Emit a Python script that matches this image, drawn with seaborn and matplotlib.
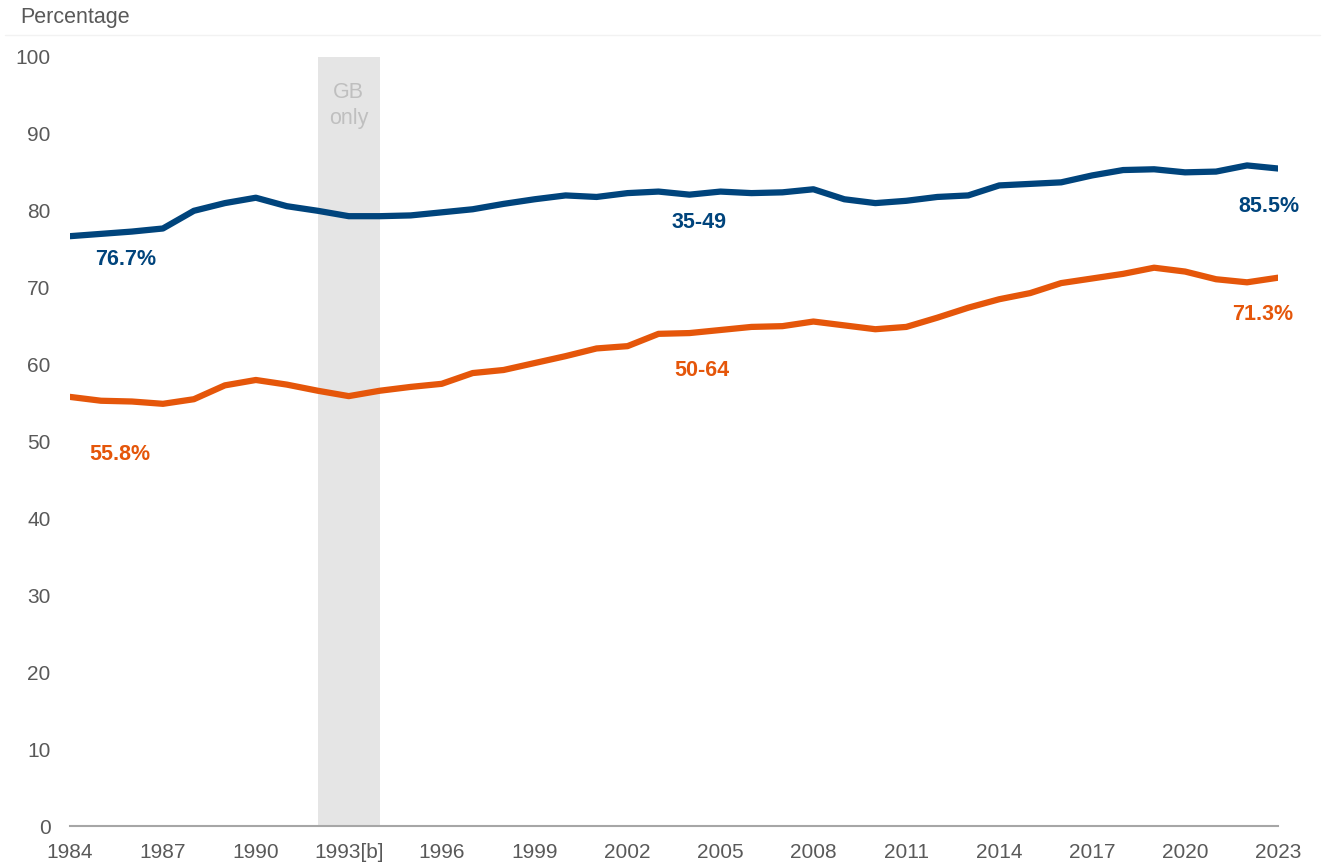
import pandas as pd
import seaborn as sns
import matplotlib.pyplot as plt
from matplotlib.lines import Line2D

years = list(range(1984, 2024))
age_35_49 = [76.7, 77.0, 77.3, 77.7, 80.0, 81.0, 81.7, 80.6, 80.0, 79.3,
             79.3, 79.4, 79.8, 80.2, 80.9, 81.5, 82.0, 81.8, 82.3, 82.5,
             82.1, 82.5, 82.3, 82.4, 82.8, 81.5, 81.0, 81.3, 81.8, 82.0,
             83.3, 83.5, 83.7, 84.6, 85.3, 85.4, 85.0, 85.1, 85.9, 85.5]
age_50_64 = [55.8, 55.3, 55.2, 54.9, 55.5, 57.3, 58.0, 57.4, 56.6, 55.9,
             56.6, 57.1, 57.5, 58.9, 59.3, 60.2, 61.1, 62.1, 62.4, 64.0,
             64.1, 64.5, 64.9, 65.0, 65.6, 65.1, 64.6, 64.9, 66.1, 67.4,
             68.5, 69.3, 70.6, 71.2, 71.8, 72.6, 72.1, 71.1, 70.7, 71.3]
tick_years = list(range(1984, 2024, 3))
tick_labels = [str(y) if y != 1993 else '1993[b]' for y in tick_years]

blue = '#00447C'
orange = '#E5560A'
grey_text = '#595959'

df = pd.DataFrame({
    'Year': years * 2,
    'Percentage': age_35_49 + age_50_64,
    'Age': ['35-49'] * len(years) + ['50-64'] * len(years),
})

sns.set_style('white')
plt.rcParams['font.family'] = ['Liberation Sans', 'DejaVu Sans']

fig = plt.figure(figsize=(13.27, 8.66), dpi=100)
ax = fig.add_axes([70 / 1327, 40 / 866, 1208 / 1327, 769 / 866])

# GB only band
ax.axvspan(1992, 1994, color='#e5e5e5', lw=0, zorder=0)
ax.text(1993, 93.7, 'GB\nonly', ha='center', va='center', color='#bfbfbf',
        fontsize=15.5, linespacing=1.3)

sns.lineplot(data=df, x='Year', y='Percentage', hue='Age',
             palette={'35-49': blue, '50-64': orange}, lw=4.5,
             legend=False, ax=ax, zorder=3)

# inline labels
lab = dict(fontsize=15.5, fontweight='bold', ha='center', va='center')
ax.text(1985.8, 73.7, '76.7%', color=blue, **lab)
ax.text(2004.3, 78.5, '35-49', color=blue, **lab)
ax.text(2022.7, 80.6, '85.5%', color=blue, **lab)
ax.text(1985.6, 48.3, '55.8%', color=orange, **lab)
ax.text(2004.4, 59.2, '50-64', color=orange, **lab)
ax.text(2022.5, 66.5, '71.3%', color=orange, **lab)

ax.set_xlim(1984, 2023)
ax.set_ylim(0, 100)
ax.set_yticks(range(0, 101, 10))
ax.set_xticks(tick_years)
ax.set_xticklabels(tick_labels)
ax.set_xlabel('')
ax.set_ylabel('')
ax.tick_params(axis='both', length=0, labelsize=15, labelcolor=grey_text)
ax.tick_params(axis='x', pad=12)
ax.tick_params(axis='y', pad=14)

for side in ['top', 'right', 'left']:
    ax.spines[side].set_visible(False)
ax.spines['bottom'].set_color('#a6a6a6')
ax.spines['bottom'].set_linewidth(1.5)

fig.text(20 / 1327, 1 - 17 / 866, 'Percentage', color=grey_text, fontsize=15.5,
         ha='left', va='center')
fig.add_artist(Line2D([5 / 1327, 1320 / 1327], [1 - 35 / 866, 1 - 35 / 866],
                      color='#f2f2f2', lw=1))

fig.savefig('out.png', dpi=100)
